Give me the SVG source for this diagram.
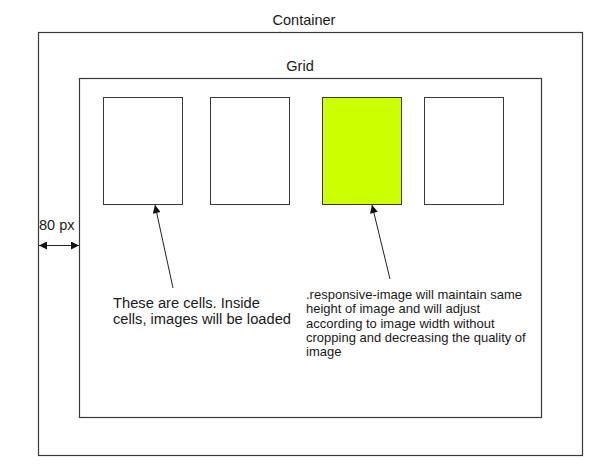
<svg xmlns="http://www.w3.org/2000/svg" width="610" height="474" viewBox="0 0 610 474">
<style>
.box{fill:#fff;stroke:#3a3a3a;stroke-width:1.2}
.cell{fill:#fff;stroke:#3a3a3a;stroke-width:1}
.t{font-family:"Liberation Sans",Arial,sans-serif;fill:#1a1a1a}
.line{stroke:#222;stroke-width:1;fill:none}
</style>
<defs>
<marker id="ah" viewBox="0 0 10 10" refX="10" refY="5" markerWidth="10" markerHeight="8" markerUnits="userSpaceOnUse" orient="auto-start-reverse">
<path d="M0,0 L10,5 L0,10 z" fill="#111"/>
</marker>
</defs>
<rect width="610" height="474" fill="#fff"/>
<g id="container">
<rect class="box" x="38.5" y="32.5" width="544" height="423"/>
<text class="t" x="304" y="25" font-size="14.5" text-anchor="middle">Container</text>
</g>
<g id="grid">
<rect class="box" x="79.5" y="78.5" width="462" height="339"/>
<text class="t" x="300" y="71" font-size="14.5" text-anchor="middle">Grid</text>
</g>
<g id="cell1"><rect class="cell" x="103.5" y="97.5" width="79" height="107"/></g>
<g id="cell2"><rect class="cell" x="210.5" y="97.5" width="79" height="107"/></g>
<g id="cell3"><rect class="cell" x="322.5" y="97.5" width="79" height="107" style="fill:#ccff00"/></g>
<g id="cell4"><rect class="cell" x="424.5" y="97.5" width="79" height="107"/></g>
<g id="note1">
<text class="t" font-size="14.7"><tspan x="113" y="308">These are cells. Inside</tspan><tspan x="113" y="324">cells, images will be loaded</tspan></text>
</g>
<g id="note2">
<text class="t" font-size="13"><tspan x="306" y="299">.responsive-image will maintain same</tspan><tspan x="306" y="313.3">height of image and will adjust</tspan><tspan x="306" y="327.6">according to image width without</tspan><tspan x="306" y="341.9">cropping and decreasing the quality of</tspan><tspan x="306" y="356.2">image</tspan></text>
</g>
<g id="dim">
<text class="t" x="39" y="230" font-size="14.5">80 px</text>
</g>
<g id="connectors">
<line class="line" x1="173" y1="288" x2="155" y2="205" marker-end="url(#ah)"/>
<line class="line" x1="390" y1="279" x2="372" y2="205" marker-end="url(#ah)"/>
<line class="line" x1="39" y1="245.5" x2="79" y2="245.5" marker-start="url(#ah)" marker-end="url(#ah)"/>
</g>
</svg>
